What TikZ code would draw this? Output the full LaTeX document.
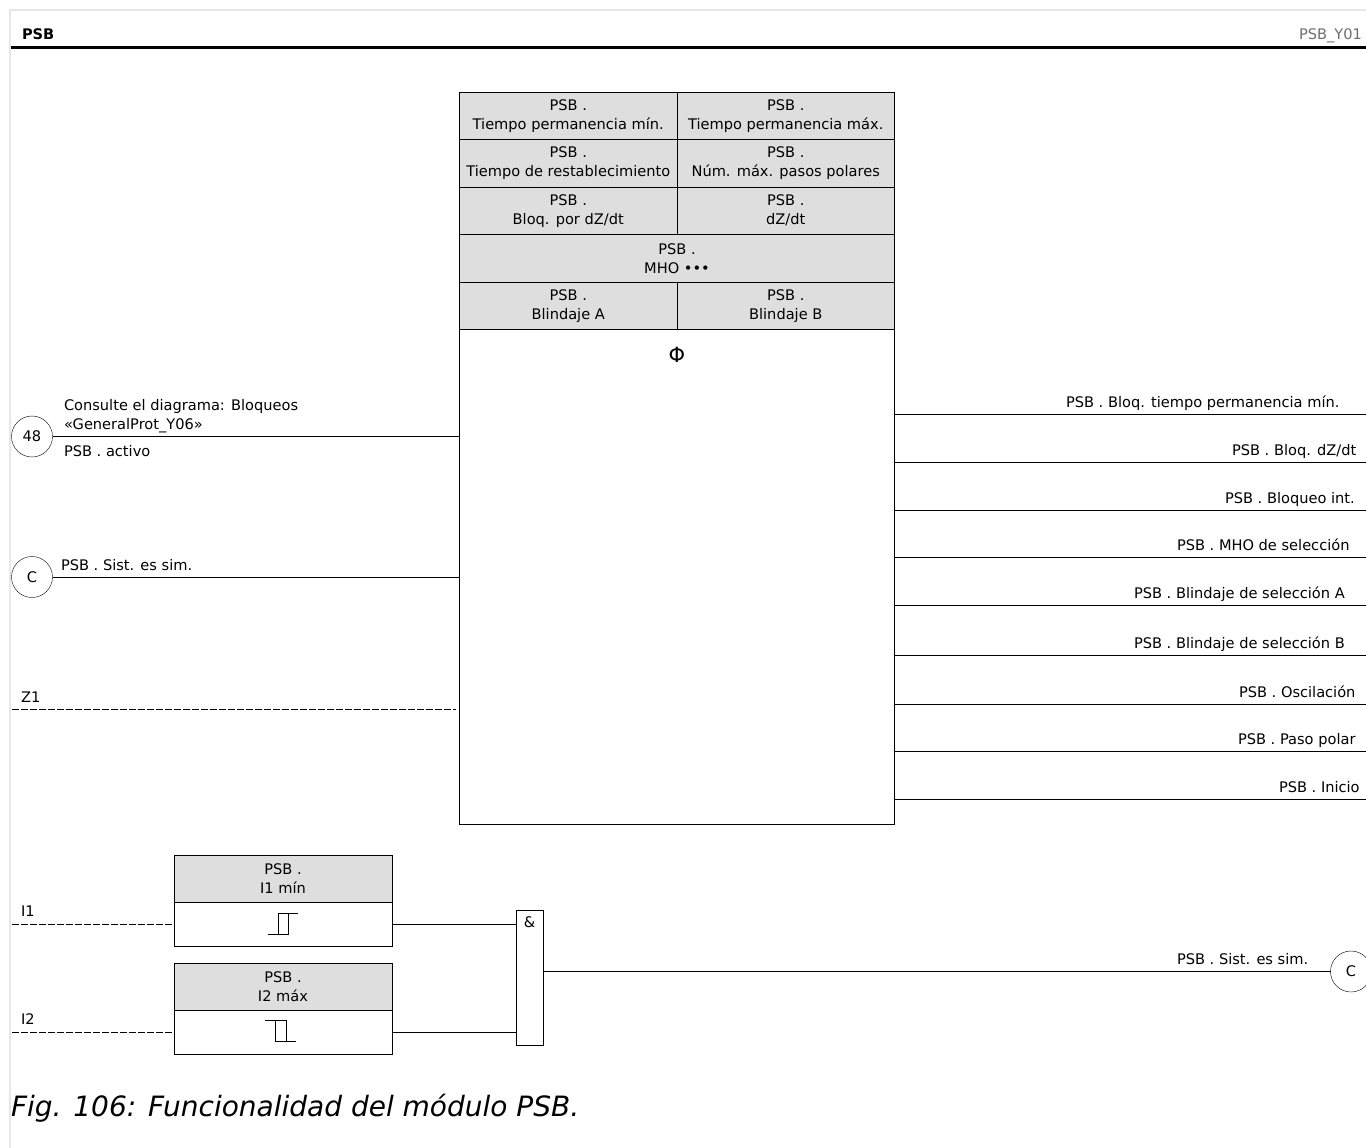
\documentclass[tikz,border=0pt]{standalone}
\usepackage{fontspec}
\setmainfont{DejaVu Sans}
\usepackage{xcolor}
\usetikzlibrary{positioning,calc}
\definecolor{hd}{HTML}{DEDEDE}
\definecolor{fr}{HTML}{E8E8E8}
\definecolor{tg}{HTML}{6E6E6E}
\newcommand{\Wide}[1]{\makebox[0pt][c]{#1}}
\tikzset{
  txt/.style={font=\fontsize{14.6}{19}\selectfont, inner sep=0pt, outer sep=0pt},
  lbl/.style={txt, anchor=base west},
  cell/.style={txt, draw, fill=hd, align=center, anchor=north west, minimum height=47.5pt, minimum width=217.5pt},
  wcell/.style={cell, minimum width=435pt},
  plain/.style={txt, draw, fill=white, anchor=north west, minimum width=218pt, minimum height=44pt},
  ref/.style={txt, draw, circle, fill=white, minimum size=41pt},
  wire/.style={line width=1pt},
  dwire/.style={line width=1pt, dash pattern=on 6.5pt off 2.5pt},
}
\begin{document}
\begin{tikzpicture}[x=1pt,y=-1pt]
  \useasboundingbox (0,0) rectangle (1366,1148);
  % frame and title
  \draw[fr, line width=1.6pt] (10,1148) -- (10,10) -- (1366,10);
  \draw[line width=2.6pt] (11,47.5) -- (1366,47.5);
  \node[lbl, font=\fontsize{14.6}{19}\selectfont\bfseries] (title) at (22,40) {PSB};
  \node[lbl, text=tg] (code) at (1299,40) {PSB\_Y01};

  % main block
  \node[txt, draw, fill=white, anchor=north west, minimum width=435pt, minimum height=732pt] (main) at (459.5,92) {};
  \node[cell] (tmin) at (459.5,92) {PSB .\\\Wide{Tiempo permanencia mín.}};
  \node[cell] (tmax) at (677,92) {PSB .\\\Wide{Tiempo permanencia máx.}};
  \node[cell] (trst) at (459.5,139.5) {PSB .\\\Wide{Tiempo de restablecimiento}};
  \node[cell] (npol) at (677,139.5) {PSB .\\\Wide{Núm. máx. pasos polares}};
  \node[cell] (bdz) at (459.5,187) {PSB .\\Bloq. por dZ/dt};
  \node[cell] (dz) at (677,187) {PSB .\\dZ/dt};
  \node[wcell] (mho) at (459.5,234.5) {PSB .\\MHO •••};
  \node[cell] (bla) at (459.5,282) {PSB .\\Blindaje A};
  \node[cell] (blb) at (677,282) {PSB .\\Blindaje B};
  \node[txt, font=\fontsize{21}{21}\selectfont] (phi) at (677,355) {Φ};

  % outputs of the main block
  \foreach \i/\ly/\lx/\name in {1/414/1066/{PSB . Bloq. tiempo permanencia mín.},
    2/462/1232/{PSB . Bloq. dZ/dt},
    3/510/1225/{PSB . Bloqueo int.},
    4/557/1177/{PSB . MHO de selección},
    5/605/1134/{PSB . Blindaje de selección A},
    6/655/1134/{PSB . Blindaje de selección B},
    7/704/1239/{PSB . Oscilación},
    8/751/1238/{PSB . Paso polar},
    9/799/1279/{PSB . Inicio}} {
    \coordinate (out\i) at (1366,\ly);
    \draw[wire] (main.east |- out\i) -- (out\i);
    \node[lbl] (outl\i) at (\lx,\ly-7) {\name};
  }

  % inputs of the main block
  \node[ref] (r48) at (32,436.5) {48};
  \coordinate (in48) at (main.west |- r48);
  \draw[wire] (r48) -- (in48);
  \node[lbl, align=left, anchor=south west] (n48) at (64,433) {Consulte el diagrama: Bloqueos\\«GeneralProt\_Y06»};
  \node[lbl] (act) at (64,456) {PSB . activo};
  \node[ref] (rc) at (32,577) {C};
  \coordinate (inc) at (main.west |- rc);
  \draw[wire] (rc) -- (inc);
  \node[lbl] (sim) at (61,570) {PSB . Sist. es sim.};
  \coordinate (z1a) at (12,709);
  \coordinate (z1b) at (456,709);
  \draw[dwire] (z1a) -- (z1b);
  \node[lbl] (z1) at (21,702) {Z1};

  % current stages
  \node[cell, minimum width=218pt] (i1h) at (174,855) {PSB .\\I1 mín};
  \node[plain] (i1b) at (174,902.5) {};
  \node[cell, minimum width=218pt] (i2h) at (174,963) {PSB .\\I2 máx};
  \node[plain] (i2b) at (174,1010.5) {};
  \draw[wire] (268,934) -- (288.5,934) -- (288.5,913) (298,913) -- (278,913) -- (278,934);
  \draw[wire] (265,1020) -- (286,1020) -- (286,1041) (296,1041) -- (275,1041) -- (275,1020);
  \coordinate (i1a) at (12,924.5);
  \coordinate (i2a) at (12,1032.5);
  \draw[dwire] (i1a) -- (i1b.west |- i1a);
  \draw[dwire] (i2a) -- (i2b.west |- i2a);
  \node[lbl] (i1) at (21,916) {I1};
  \node[lbl] (i2) at (21,1024) {I2};

  % and gate
  \node[txt, draw, fill=white, anchor=north west, minimum width=27.5pt, minimum height=135.5pt] (and) at (516,910) {};
  \node[txt] (amp) at (529.5,922) {\&};
  \draw[wire] (i1b.east |- i1a) -- (and.west |- i1a);
  \draw[wire] (i2b.east |- i2a) -- (and.west |- i2a);
  \node[ref] (rc2) at (1351,971.5) {C};
  \draw[wire] (and.east |- rc2) -- (rc2);
  \node[lbl] (sim2) at (1177,964) {PSB . Sist. es sim.};

  \node[lbl, font=\fontsize{28}{30}\selectfont\itshape] (cap) at (11,1116) {Fig. 106: Funcionalidad del módulo PSB.};
\end{tikzpicture}
\end{document}
